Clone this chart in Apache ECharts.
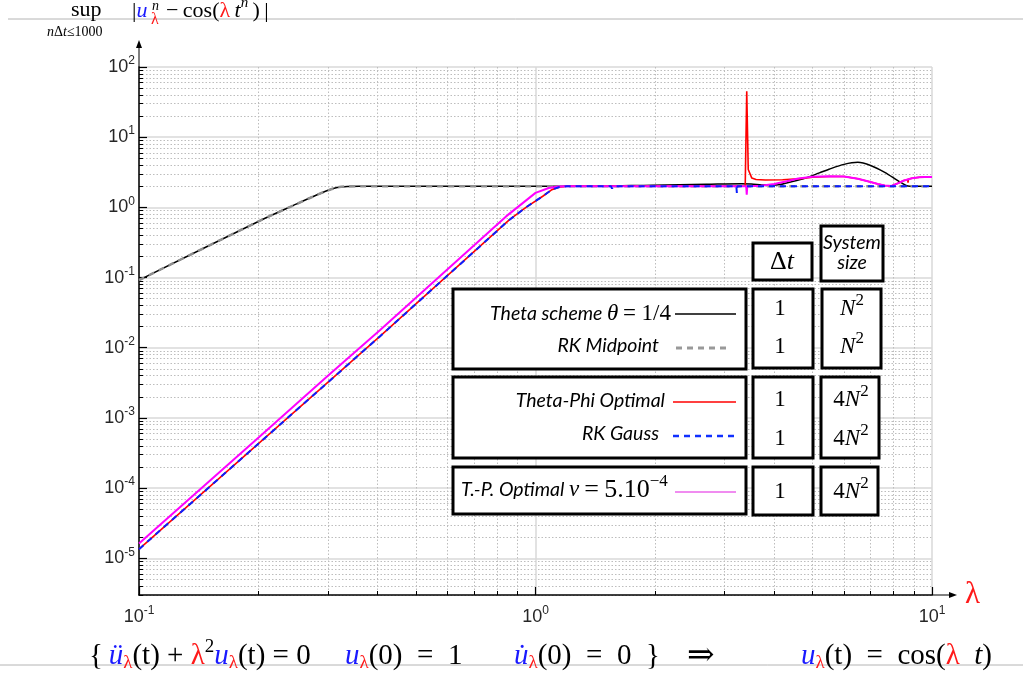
<!DOCTYPE html>
<html>
<head>
<meta charset="utf-8">
<script src="https://cdn.jsdelivr.net/npm/echarts@6/dist/echarts.min.js"></script>
<style>
html, body { margin: 0; padding: 0; background: #fff; }
#main { width: 1023px; height: 684px; }
</style>
</head>
<body>
<div id="main"></div>
<script>
// values (lambda, sup error)
const thetaLam = [0.1, 0.2, 0.25, 0.276, 0.3, 0.316, 0.335, 0.36, 1.3, 1.97, 2.7, 3.3, 3.5, 3.8, 4.1, 4.4, 4.8, 5.2, 5.5, 6.0, 6.5, 7.0, 7.6, 8.2, 8.6, 8.8, 10];
const thetaErr = [0.092, 0.63, 1.12, 1.44, 1.75, 1.92, 1.99, 2.0, 2.0, 2.07, 2.13, 2.17, 2.15, 2.08, 2.1, 2.3, 2.62, 3.1, 3.5, 4.1, 4.38, 3.95, 3.15, 2.4, 2.05, 2.0, 2.0];

const midLam = [0.1, 0.2, 0.25, 0.276, 0.3, 0.316, 0.335, 0.36, 10];
const midErr = [0.092, 0.63, 1.12, 1.44, 1.75, 1.92, 1.99, 2.0, 2.0];

const phiLam = [0.1, 0.405, 0.86, 0.948, 1.043, 1.1, 1.15, 1.2, 1.55, 1.56, 1.57, 3.38, 3.40, 3.41, 3.44, 3.51, 3.6, 3.8, 4.2, 4.6, 5.0, 5.5, 6.0, 6.5, 7.0, 7.3, 7.6, 7.9, 8.2, 8.5, 8.68, 8.7, 8.72, 8.9, 9.3, 9.6, 10];
const phiErr = [1.35e-5, 0.0145, 0.667, 1.01, 1.44, 1.79, 1.95, 2.0, 2.0, 1.9, 2.0, 2.0, 2.1, 45, 3.46, 2.63, 2.5, 2.45, 2.48, 2.55, 2.68, 2.76, 2.76, 2.56, 2.3, 2.15, 2.05, 2.02, 2.2, 2.42, 2.5, 2.25, 2.52, 2.6, 2.68, 2.7, 2.7];

const gaussLam = [0.1, 0.405, 0.86, 0.948, 1.043, 1.1, 1.15, 1.2, 1.55, 1.56, 1.57, 2.07, 2.08, 2.09, 2.85, 2.86, 2.87, 3.21, 3.22, 3.23, 10];
const gaussErr = [1.35e-5, 0.0145, 0.667, 1.01, 1.44, 1.79, 1.95, 2.0, 2.0, 1.85, 2.0, 2.0, 1.9, 2.0, 2.0, 1.9, 2.0, 2.0, 1.6, 2.0, 2.0];

const tpLam = [0.1, 0.2013, 0.301, 0.405, 0.843, 0.93, 1.0, 1.08, 1.14, 1.2, 3.40, 3.41, 3.42, 3.7, 4.0, 4.3, 4.6, 5.0, 5.5, 6.0, 6.5, 7.0, 7.3, 7.6, 7.9, 8.2, 8.5, 8.9, 9.3, 9.6, 10];
const tpErr = [1.62e-5, 5.4e-4, 4.1e-3, 0.0177, 0.744, 1.16, 1.61, 1.89, 1.98, 2.0, 2.0, 1.52, 2.0, 2.04, 2.15, 2.35, 2.58, 2.74, 2.78, 2.76, 2.56, 2.3, 2.15, 2.05, 2.02, 2.2, 2.42, 2.6, 2.68, 2.7, 2.7];

// tick values
const majorX = [0.1, 1, 10];
const majorY = [1e-5, 1e-4, 1e-3, 1e-2, 1e-1, 1, 10, 100];
const minorX = [];
const minorY = [];
for (let e = -1; e <= 0; e++) for (let m = 2; m <= 9; m++) minorX.push(Number(m + 'e' + e));
for (let e = -6; e <= 1; e++) for (let m = 2; m <= 9; m++) {
    const v = Number(m + 'e' + e);
    if (v >= 3e-6 && v <= 100) minorY.push(v);
}

const pairs = (lam, err) => lam.map((l, i) => [l, err[i]]);
const powLabel = v => '{b|10}{s|' + Math.round(Math.log10(v)) + '}';
const tickRich = {
    b: { fontFamily: 'Liberation Sans', fontSize: 18, color: '#262626' },
    s: { fontFamily: 'Liberation Sans', fontSize: 12, color: '#262626', padding: [0, 0, 12, 0] }
};

const serif = 'Liberation Serif';
const sans = 'Lato';
const red = '#ff1a1a';
const blue = '#1a1aff';
const sp = '\u2002';

const lg = {
    it: { fontFamily: sans, fontStyle: 'italic', fontSize: 19.5, fill: '#000' },
    mi: { fontFamily: serif, fontStyle: 'italic', fontSize: 23, fill: '#000' },
    m: { fontFamily: serif, fontSize: 23, fill: '#000' },
    big: { fontFamily: serif, fontSize: 26, fill: '#000' },
    bigi: { fontFamily: serif, fontStyle: 'italic', fontSize: 26, fill: '#000' },
    sup: { fontFamily: serif, fontSize: 17, fill: '#000', padding: [0, 0, 17, 0] },
    // title
    t: { fontFamily: serif, fontSize: 22, fill: '#000' },
    tu: { fontFamily: serif, fontStyle: 'italic', fontSize: 22, fill: blue },
    tl: { fontFamily: serif, fontSize: 22, fill: red },
    ti: { fontFamily: serif, fontStyle: 'italic', fontSize: 22, fill: '#000' },
    ts: { fontFamily: serif, fontStyle: 'italic', fontSize: 15, fill: '#000', padding: [0, 0, 15, 0] },
    sa: { fontFamily: serif, fontStyle: 'italic', fontSize: 14, fill: '#000' },
    sb: { fontFamily: serif, fontSize: 14, fill: '#000' },
    sl: { fontFamily: serif, fontSize: 16, fill: red },
    // equation
    e: { fontFamily: serif, fontSize: 29, fill: '#000' },
    arr: { fontFamily: 'DejaVu Serif', fontSize: 33, fill: '#000' },
    eu: { fontFamily: serif, fontStyle: 'italic', fontSize: 29, fill: blue },
    eL: { fontFamily: serif, fontSize: 29, fill: red },
    ei: { fontFamily: serif, fontStyle: 'italic', fontSize: 29, fill: '#000' },
    el: { fontFamily: serif, fontSize: 19, fill: red, padding: [15, 0, 0, 0] },
    esb: { fontFamily: serif, fontSize: 19, fill: '#000', padding: [0, 0, 17, 0] }
};

function txt(x, y, text, align) {
    return {
        type: 'text', x: x, y: y, z: 100,
        style: {
            text: text, rich: lg, fill: '#000',
            fontFamily: serif, fontSize: 29,
            align: align || 'left', textAlign: align || 'left',
            verticalAlign: 'middle', textVerticalAlign: 'middle'
        }
    };
}
function box(x1, y1, x2, y2) {
    return { type: 'rect', z: 90, shape: { x: x1, y: y1, width: x2 - x1, height: y2 - y1 },
        style: { fill: '#fff', stroke: '#000', lineWidth: 3 } };
}
function seg(x1, y1, x2, y2, color, width, dash) {
    return { type: 'line', z: 95, shape: { x1: x1, y1: y1, x2: x2, y2: y2 },
        style: { stroke: color, lineWidth: width, lineDash: dash || null } };
}

const option = {
    animation: false,
    backgroundColor: '#fff',
    grid: { left: 139, right: 91, top: 67, bottom: 89, containLabel: false, outerBoundsMode: 'none' },
    xAxis: [{
        type: 'log', logBase: 10, min: 0.1, max: 10, position: 'bottom',
        name: 'λ', nameLocation: 'end', nameGap: 33,
        nameTextStyle: { color: red, fontSize: 31, fontFamily: serif },
        axisLine: { show: true, onZero: false, lineStyle: { color: '#000', width: 1.5 } },
        axisTick: { show: true, inside: true, length: 8, customValues: majorX, lineStyle: { color: '#000', width: 1.2 } },
        axisLabel: { customValues: majorX, formatter: powLabel, margin: 10, fontSize: 18, rich: tickRich },
        splitLine: { show: true, lineStyle: { color: '#d9d9d9', width: 1.5 } }
    }, {
        type: 'log', logBase: 10, min: 0.1, max: 10, position: 'bottom',
        axisLine: { show: false },
        axisLabel: { show: false },
        axisTick: { show: true, inside: true, length: 4, customValues: minorX, lineStyle: { color: '#000', width: 1 } },
        splitLine: { show: true, lineStyle: { color: '#bdbdbd', width: 1, type: [1.5, 2] } }
    }],
    yAxis: [{
        type: 'log', logBase: 10, min: 3e-6, max: 100, position: 'left',
        axisLine: { show: true, onZero: false, lineStyle: { color: '#000', width: 1.5 } },
        axisTick: { show: true, inside: true, length: 8, customValues: majorY, lineStyle: { color: '#000', width: 1.2 } },
        axisLabel: { customValues: majorY, formatter: powLabel, margin: 4, fontSize: 18, rich: tickRich },
        splitLine: { show: true, lineStyle: { color: '#d9d9d9', width: 1.5 } }
    }, {
        type: 'log', logBase: 10, min: 3e-6, max: 100, position: 'left',
        axisLine: { show: false },
        axisLabel: { show: false },
        axisTick: { show: true, inside: true, length: 4, customValues: minorY, lineStyle: { color: '#000', width: 1 } },
        splitLine: { show: true, lineStyle: { color: '#bdbdbd', width: 1, type: [1.5, 2] } }
    }],
    series: [{
        name: 'Theta scheme', type: 'line', symbol: 'none', smooth: 0.3,
        lineStyle: { color: '#000', width: 1.5 },
        data: pairs(thetaLam, thetaErr)
    }, {
        name: 'RK Midpoint', type: 'line', symbol: 'none', smooth: 0.3,
        lineStyle: { color: '#8f8f8f', width: 2.5, type: [6, 5] },
        data: pairs(midLam, midErr)
    }, {
        name: 'Theta-Phi Optimal', type: 'line', symbol: 'none',
        lineStyle: { color: '#ff0000', width: 1.6 },
        data: pairs(phiLam, phiErr)
    }, {
        name: 'T.-P. Optimal', type: 'line', symbol: 'none',
        lineStyle: { color: '#ff00ff', width: 2 },
        data: pairs(tpLam, tpErr)
    }, {
        name: 'RK Gauss', type: 'line', symbol: 'none',
        lineStyle: { color: '#0a1eff', width: 2, type: [6, 5] },
        data: pairs(gaussLam, gaussErr)
    }],
    graphic: [
        // slide rules
        seg(8, 19, 1023, 19, '#b4b4b4', 1),
        seg(0, 665, 1023, 665, '#b4b4b4', 1),
        // axis arrows
        seg(932, 595, 951, 595, '#000', 1),
        { type: 'polygon', z: 95, shape: { points: [[957, 595], [949, 592], [949, 598]] }, style: { fill: '#000' } },
        seg(139, 67, 139, 46, '#000', 1),
        { type: 'polygon', z: 95, shape: { points: [[139, 40], [136, 48], [142, 48]] }, style: { fill: '#000' } },
        // title
        txt(71, 10, '{t|sup}'),
        txt(47, 32, '{sa|n}{sb|Δ}{sa|t}{sb|≤1000}'),
        txt(132, 11, '{t||}{tu|u}'),
        txt(152, 6, '{sa|n}'),
        txt(151, 20, '{sl|λ}'),
        txt(166, 11, '{t|−\u2009cos(}{tl|λ}{ti|\u2009t}{ts|n}{t|\u2009)\u2009|}'),
        // bottom equation
        txt(89, 656, '{e|{\u2009}{eu|ü}{el|λ}{e|(t) + }{eL|λ}{esb|2}{eu|u}{el|λ}{e|(t) = 0}'),
        txt(345, 656, '{eu|u}{el|λ}{e|(0)' + sp + '=' + sp + '1}'),
        txt(514, 656, '{eu|u\u0307}{el|λ}{e|(0)' + sp + '=' + sp + '0' + sp + '\u007D}'),
        txt(687, 656, '{arr|⇒}'),
        txt(801, 656, '{eu|u}{el|λ}{e|(t)' + sp + '=' + sp + 'cos(}{eL|λ}{ei|' + sp + 't}{e|)}'),
        // legend table
        box(453, 289, 746, 369),
        box(453, 377, 746, 458),
        box(453, 467, 746, 514),
        box(753, 243, 812, 280),
        box(753, 289, 813, 368),
        box(753, 377, 813, 458),
        box(753, 467, 813, 515),
        box(821, 226, 883, 281),
        box(822, 289, 881, 368),
        box(821, 377, 879, 458),
        box(821, 467, 878, 515),
        txt(671, 314, '{it|Theta scheme }{mi|θ}{m|\u2009= 1/4}', 'right'),
        txt(659, 346, '{it|RK Midpoint}', 'right'),
        txt(665, 401, '{it|Theta-Phi Optimal}', 'right'),
        txt(659, 434, '{it|RK Gauss}', 'right'),
        txt(461, 490, '{it|T.-P. Optimal }{mi|ν}{big|\u2009=\u20095.10}{sup|−4}'),
        seg(675, 314, 736, 314, '#000', 1.5),
        seg(676, 348, 731, 348, '#999', 3, [6, 5]),
        seg(673, 402, 736, 402, '#ff0000', 1.5),
        seg(673, 436, 736, 436, '#1030ff', 2.5, [6, 5]),
        seg(675, 492, 736, 492, '#f08cf0', 2),
        txt(782, 262, '{big|Δ}{bigi|t}', 'center'),
        txt(852, 253, '{it|System}\n{it|size}', 'center'),
        txt(780, 309, '{m|1}', 'center'),
        txt(780, 347, '{m|1}', 'center'),
        txt(780, 400, '{m|1}', 'center'),
        txt(780, 439, '{m|1}', 'center'),
        txt(780, 492, '{m|1}', 'center'),
        txt(852, 309, '{mi|N}{sup|2}', 'center'),
        txt(852, 347, '{mi|N}{sup|2}', 'center'),
        txt(851, 400, '{m|4}{mi|N}{sup|2}', 'center'),
        txt(851, 439, '{m|4}{mi|N}{sup|2}', 'center'),
        txt(851, 492, '{m|4}{mi|N}{sup|2}', 'center')
    ]
};

const chart = echarts.init(document.getElementById('main'));
chart.setOption(option);
window.addEventListener('resize', function () { chart.resize(); });
</script>
</body>
</html>
